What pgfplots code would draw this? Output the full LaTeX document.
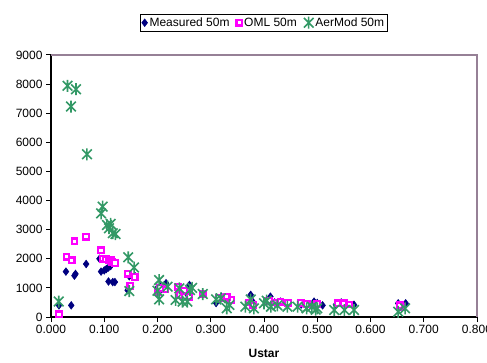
\documentclass[border=0pt]{standalone}
\usepackage{fontspec}
\setmainfont{Liberation Sans}
\usepackage{pgfplots}
\pgfplotsset{compat=1.18}
\usetikzlibrary{calc}
\definecolor{mnavy}{RGB}{0,0,128}
\definecolor{mmag}{RGB}{255,0,255}
\definecolor{mgreen}{RGB}{51,153,102}
\definecolor{mauve}{RGB}{150,128,150}
\pgfdeclareplotmark{xstar}{%
  \pgfpathmoveto{\pgfqpoint{-0.8\pgfplotmarksize}{-0.8\pgfplotmarksize}}%
  \pgfpathlineto{\pgfqpoint{0.8\pgfplotmarksize}{0.8\pgfplotmarksize}}%
  \pgfpathmoveto{\pgfqpoint{-0.8\pgfplotmarksize}{0.8\pgfplotmarksize}}%
  \pgfpathlineto{\pgfqpoint{0.8\pgfplotmarksize}{-0.8\pgfplotmarksize}}%
  \pgfpathmoveto{\pgfqpoint{0pt}{-\pgfplotmarksize}}%
  \pgfpathlineto{\pgfqpoint{0pt}{\pgfplotmarksize}}%
  \pgfusepathqstroke}
\begin{document}
\begin{tikzpicture}
\begin{axis}[
  scale only axis, width=426pt, height=262pt,
  xmin=0, xmax=0.8, ymin=0, ymax=9000,
  axis x line*=bottom, axis y line*=left,
  axis line style={black, line width=1.3pt, -},
  xtick={0,0.1,0.2,0.3,0.4,0.5,0.6,0.7,0.8},
  ytick={0,1000,2000,3000,4000,5000,6000,7000,8000,9000},
  xticklabel style={/pgf/number format/.cd, fixed, fixed zerofill, precision=3},
  yticklabel style={/pgf/number format/1000 sep={}},
  /pgf/number format/assume math mode=true,
  tick align=outside, major tick length=5pt,
  tick style={black, line width=1pt},
  ticklabel style={font=\fontsize{12}{14}\selectfont},
  xlabel={Ustar},
  xlabel style={font=\fontsize{12}{14}\selectfont\bfseries, yshift=-8pt},
  legend style={at={(0.5,1.088)}, anchor=south, legend columns=-1,
    draw=black, line width=1.2pt, font=\fontsize{12}{14}\selectfont,
    inner sep=1.5pt,
    /tikz/every even column/.append style={column sep=5pt}},
  legend cell align=left,
  clip=false,
]
\addplot[only marks, mark=diamond*, mark size=3.8pt, color=mnavy, mark options={fill=mnavy, line width=0.6pt}] coordinates {
(0.015,400)(0.038,400)(0.028,1560)(0.044,1420)(0.046,1480)(0.066,1820)
(0.091,2000)(0.094,1560)(0.100,1600)(0.104,1650)(0.108,1700)(0.112,1750)
(0.108,1220)(0.116,1200)(0.120,1200)(0.147,1400)(0.158,1400)(0.144,920)
(0.200,1000)(0.202,850)(0.216,1160)(0.205,1050)(0.240,1000)(0.260,1100)
(0.255,800)(0.285,800)(0.310,480)(0.320,700)(0.330,650)(0.375,760)
(0.380,500)(0.412,700)(0.405,550)(0.420,500)(0.431,530)(0.445,450)
(0.470,430)(0.494,530)(0.500,480)(0.510,400)(0.545,500)(0.535,420)
(0.569,420)(0.652,470)(0.666,470)
};
\addlegendentry{Measured 50m}
\addplot[only marks, mark=square*, mark size=2.8pt, color=mmag, mark options={draw=mmag, fill=white, line width=2.2pt}] coordinates {
(0.015,90)(0.029,2070)(0.039,1950)(0.044,2600)(0.066,2760)(0.094,2290)
(0.098,2000)(0.103,1980)(0.108,1960)(0.112,1950)(0.115,1880)(0.120,1860)
(0.144,1490)(0.157,1370)(0.149,1065)
(0.200,870)(0.205,1000)(0.215,950)(0.238,1040)(0.241,760)(0.250,900)
(0.260,700)(0.285,780)(0.315,650)(0.338,584)(0.330,700)(0.372,500)
(0.380,400)(0.410,560)(0.420,500)(0.431,527)(0.445,480)(0.469,480)
(0.480,450)(0.500,450)(0.538,470)(0.550,470)(0.560,430)(0.660,354)(0.655,400)
};
\addlegendentry{OML 50m}
\addplot[only marks, mark=xstar, mark size=6pt, color=mgreen, mark options={line width=1.6pt}] coordinates {
(0.0145,530)(0.031,7940)(0.047,7825)(0.0375,7230)(0.0675,5590)(0.097,3790)
(0.094,3560)(0.105,3160)(0.109,3050)(0.112,3200)(0.116,2880)(0.121,2850)
(0.145,2050)(0.156,1700)(0.147,890)
(0.203,1270)(0.203,607)(0.200,900)(0.219,1040)(0.234,584)(0.241,985)
(0.247,527)(0.256,527)(0.261,928)(0.265,1000)(0.285,790)(0.310,607)
(0.319,640)(0.335,412)(0.330,300)(0.365,354)(0.375,600)(0.381,300)
(0.400,470)(0.405,560)(0.413,354)(0.425,400)(0.444,354)(0.463,354)
(0.480,300)(0.490,350)(0.500,300)(0.497,250)(0.532,240)(0.551,240)
(0.569,240)(0.652,180)(0.665,300)
};
\addlegendentry{AerMod 50m}
\draw[mauve, line width=1.3pt] (rel axis cs:0,1) -- (rel axis cs:1,1) -- (rel axis cs:1,0);
\end{axis}
\pgfresetboundingbox
\path ($(current axis.south west)+(-51pt,-45pt)$) rectangle ($(current axis.north east)+(10pt,55pt)$);
\end{tikzpicture}
\end{document}
